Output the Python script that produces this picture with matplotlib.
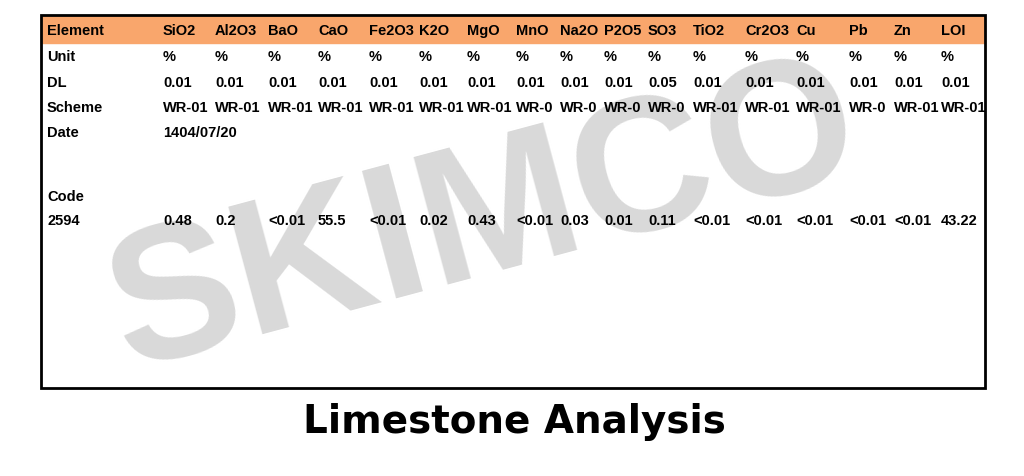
import matplotlib
matplotlib.use("Agg")
import matplotlib.pyplot as plt
from matplotlib.patches import Rectangle

elements = ["SiO2","Al2O3","BaO","CaO","Fe2O3","K2O","MgO","MnO","Na2O","P2O5","SO3","TiO2","Cr2O3","Cu","Pb","Zn","LOI"]
units = ["%"]*17
dl = ["0.01"]*10 + ["0.05"] + ["0.01"]*6
scheme = ["WR-01","WR-01","WR-01","WR-01","WR-01","WR-01","WR-01","WR-0","WR-0","WR-0","WR-0","WR-01","WR-01","WR-01","WR-0","WR-01","WR-01"]
date = "1404/07/20"
code = "2594"
values = ["0.48","0.2","<0.01","55.5","<0.01","0.02","0.43","<0.01","0.03","0.01","0.11","<0.01","<0.01","<0.01","<0.01","<0.01","43.22"]
col_x = [163,215,268,318,369,419,467,516,560,604,648,693,745,796,849,894,941]

W, H = 1024, 476
fig = plt.figure(figsize=(W/100, H/100), dpi=100)
ax = fig.add_axes([0, 0, 1, 1])
ax.set_xlim(0, W); ax.set_ylim(H, 0); ax.axis("off")

FONT = "Liberation Sans"
ax.add_patch(Rectangle((41, 15), 944, 373, fill=False, lw=2, ec="black", zorder=5))
ax.add_patch(Rectangle((42, 16), 942, 27, color="#F9A66C", zorder=1))

ax.text(484, 222, "SKIMCO", fontsize=138, fontweight="bold", color="#d9d9d9",
        family="Liberation Sans", rotation=15, ha="center", va="center", zorder=0)

def row(y, label, vals):
    ax.text(47, y, label, fontsize=10.5, fontweight="bold", family=FONT, va="center", zorder=3)
    for x, v in zip(col_x, vals):
        ax.text(x, y, v, fontsize=10.5, fontweight="bold", family=FONT, va="center", zorder=3)

row(31, "Element", elements)
row(57, "Unit", units)
row(83, "DL", dl)
row(108, "Scheme", scheme)
row(133, "Date", [date])
row(197, "Code", [])
row(221, code, values)

ax.text(514, 422, "Limestone Analysis", fontsize=28, fontweight="bold", family="DejaVu Sans",
        ha="center", va="center")
fig.savefig("out.png", dpi=100)
